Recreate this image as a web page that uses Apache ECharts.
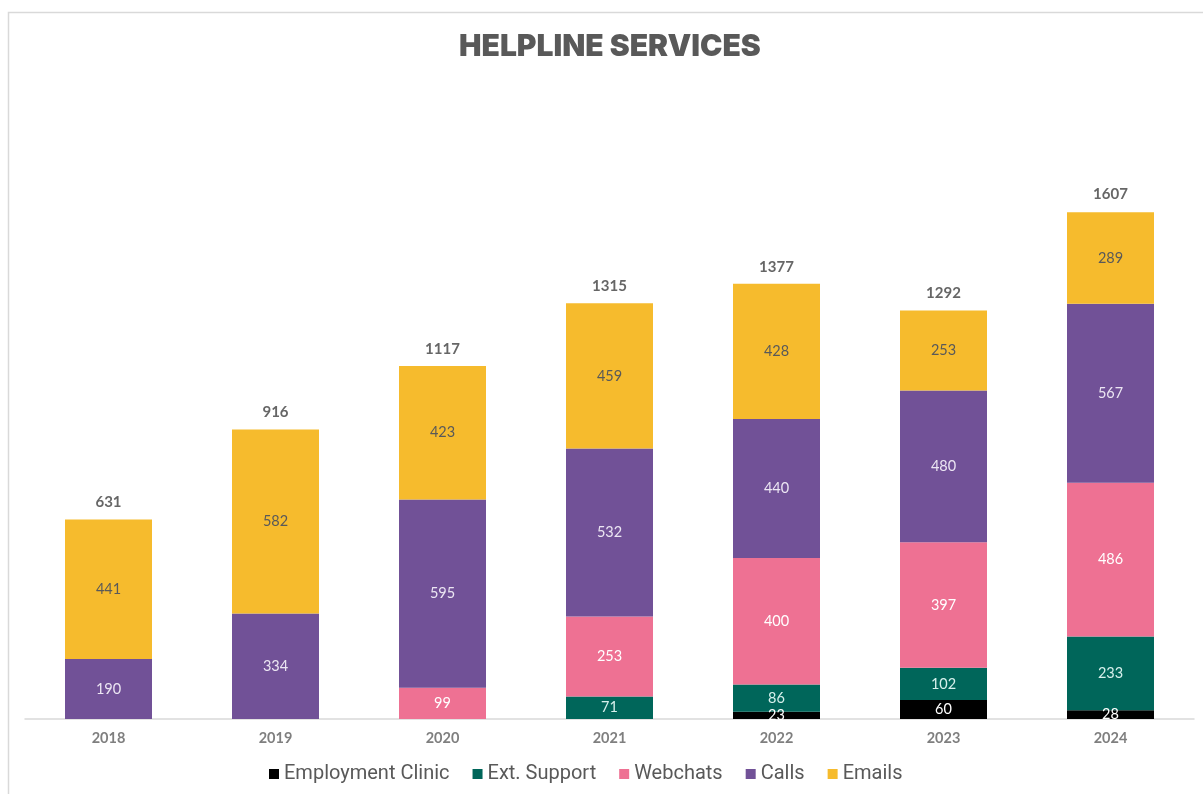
<!DOCTYPE html>
<html>
<head>
<meta charset="utf-8">
<script src="https://cdn.jsdelivr.net/npm/echarts@6/dist/echarts.min.js"></script>
<style>
  html, body { margin: 0; padding: 0; background: #ffffff; }
  #chart { width: 1203px; height: 794px; }
</style>
</head>
<body>
<div id="chart"></div>
<script>
// Helpline service volumes by year
const years = ['2018', '2019', '2020', '2021', '2022', '2023', '2024'];
const employmentClinic = [null, null, null, null, 23, 60, 28];
const extSupport = [null, null, null, 71, 86, 102, 233];
const webchats = [null, null, 99, 253, 400, 397, 486];
const calls = [190, 334, 595, 532, 440, 480, 567];
const emails = [441, 582, 423, 459, 428, 253, 289];
const totals = [631, 916, 1117, 1315, 1377, 1292, 1607];

function stackSeries(name, data, color, labelColor) {
  return {
    name: name,
    type: 'bar',
    stack: 'services',
    data: data,
    barWidth: 87,
    itemStyle: { color: color },
    label: {
      show: true,
      position: 'inside',
      color: labelColor,
      fontFamily: 'Lato',
      fontSize: 14.5
    },
    emphasis: { disabled: true }
  };
}

const chart = echarts.init(document.getElementById('chart'), null, { renderer: 'canvas' });

chart.setOption({
  backgroundColor: '#ffffff',
  animation: false,
  graphic: [{
    type: 'rect',
    shape: { x: 8.5, y: 12.5, width: 1400, height: 1000 },
    style: { fill: 'none', stroke: '#d9d9d9', lineWidth: 1.5 },
    silent: true,
    z: -1
  }],
  title: {
    text: 'HELPLINE SERVICES',
    left: 454,
    top: 27,
    textStyle: {
      fontFamily: 'Inter',
      fontWeight: 900,
      fontSize: 30,
      color: '#595959'
    }
  },
  legend: {
    data: ['Employment Clinic', 'Ext. Support', 'Webchats', 'Calls', 'Emails'],
    bottom: 5,
    left: 264,
    icon: 'rect',
    itemWidth: 10,
    itemHeight: 10,
    itemGap: 23,
    textStyle: { fontFamily: 'Roboto', fontSize: 20, color: '#595959' }
  },
  grid: { left: 25, right: 9, top: 150, bottom: 75, containLabel: false },
  xAxis: {
    type: 'category',
    data: years,
    axisLine: { lineStyle: { color: '#d9d9d9', width: 1.5 } },
    axisTick: { show: false },
    axisLabel: {
      margin: 12,
      fontFamily: 'Lato',
      fontWeight: 'bold',
      fontSize: 14.5,
      color: '#7f7f7f'
    }
  },
  yAxis: {
    type: 'value',
    min: 0,
    max: 1800,
    show: false,
    splitLine: { show: false }
  },
  series: [
    stackSeries('Employment Clinic', employmentClinic, '#000000', '#ffffff'),
    stackSeries('Ext. Support', extSupport, '#00665a', '#d6f0ec'),
    stackSeries('Webchats', webchats, '#ee7193', '#ffffff'),
    stackSeries('Calls', calls, '#715197', '#ece6f3'),
    stackSeries('Emails', emails, '#f6bb2d', '#595959'),
    {
      // year totals shown above each stack
      name: 'Total',
      type: 'scatter',
      data: totals,
      symbolSize: 1,
      itemStyle: { color: 'rgba(0,0,0,0)' },
      label: {
        show: true,
        position: 'top',
        distance: 9,
        fontFamily: 'Lato',
        fontWeight: 'bold',
        fontSize: 15,
        color: '#404040'
      },
      emphasis: { disabled: true },
      z: 10
    }
  ]
});
</script>
</body>
</html>
